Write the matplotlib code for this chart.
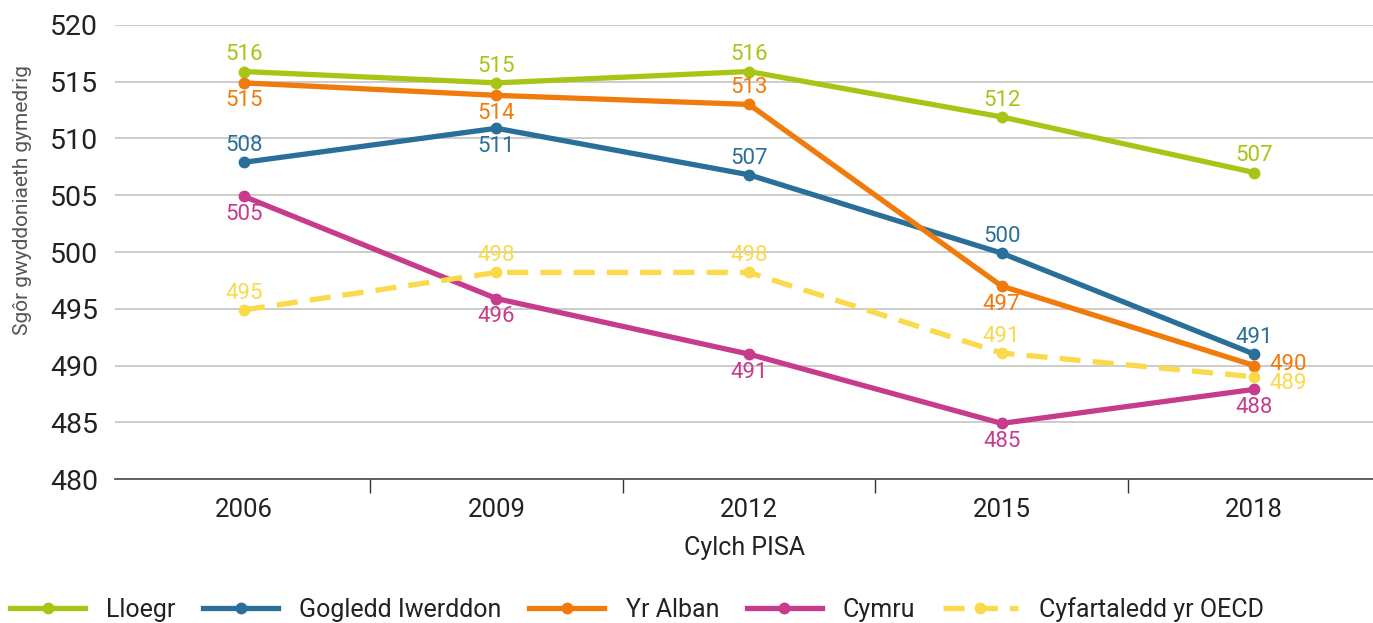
import matplotlib
matplotlib.use("Agg")
import matplotlib.pyplot as plt
from matplotlib.ticker import FixedLocator

plt.rcParams['font.family'] = ['Roboto', 'DejaVu Sans']

years = ["2006", "2009", "2012", "2015", "2018"]
lloegr = [515.9, 514.9, 515.9, 511.9, 507.0]
gogledd = [507.9, 510.9, 506.8, 499.9, 491.0]
alban = [514.9, 513.8, 513.0, 497.0, 490.0]
cymru = [504.9, 495.9, 491.0, 484.9, 487.9]
oecd = [494.9, 498.2, 498.2, 491.1, 489.0]

names = ["Lloegr", "Gogledd Iwerddon", "Yr Alban", "Cymru", "Cyfartaledd yr OECD"]
colors = ["#a6c514", "#2a6f9a", "#f07a0a", "#c73b8c", "#fad94a"]
series = [lloegr, gogledd, alban, cymru, oecd]
styles = ["-", "-", "-", "-", "--"]
# label placement: 'a' above, 'b' below, 'r' right
placements = [
    ["a", "a", "a", "a", "a"],
    ["a", "b", "a", "a", "a"],
    ["b", "b", "a", "b", "r"],
    ["b", "b", "b", "b", "b"],
    ["a", "a", "a", "a", "r2"],
]

fig = plt.figure(figsize=(13.73, 6.23), dpi=100)
ax = fig.add_axes([0.0838, 0.2311, 0.9162, 0.7288])

x = list(range(len(years)))
handles = []
for vals, c, ls, nm, pl in zip(series, colors, styles, names, placements):
    if ls == "--":
        h, = ax.plot(x, vals, color=c, lw=3.8, ls=ls, dashes=(4, 2.3), marker="o", ms=7.5,
                     label=nm, zorder=3)
    else:
        h, = ax.plot(x, vals, color=c, lw=3.8, ls=ls, marker="o", ms=7.5,
                     label=nm, zorder=3)
    handles.append(h)
    for xi, v, p in zip(x, vals, pl):
        txt = f"{round(v):d}"
        if p == "a":
            off, ha = (0, 12), "center"
        elif p == "b":
            off, ha = (0, -13), "center"
        elif p == "r":
            off, ha = (11, 1), "left"
        else:
            off, ha = (11, -5), "left"
        ax.annotate(txt, (xi, v), xytext=off, textcoords="offset points",
                    ha=ha, va="center", color=c, fontsize=16)

ax.set_xlim(-0.51, 4.47)
ax.set_ylim(480, 520)
ax.set_yticks(range(480, 521, 5))
ax.set_xticks(x)
ax.set_xticklabels(years)
ax.xaxis.set_minor_locator(FixedLocator([0.5, 1.5, 2.5, 3.5]))
ax.tick_params(axis="x", which="major", length=0, labelsize=18.5, pad=14, labelcolor="#222222")
ax.tick_params(axis="x", which="minor", length=10, width=1, color="#333333", direction="out")
ax.tick_params(axis="y", length=0, labelsize=20.5, pad=12, labelcolor="#222222")

ax.grid(axis="y", color="#c8c8c8", lw=1.3)
ax.set_axisbelow(True)
for s in ["top", "right", "left"]:
    ax.spines[s].set_visible(False)
ax.spines["bottom"].set_color("#555555")
ax.spines["bottom"].set_linewidth(1.3)
ax.spines["bottom"].set_zorder(4)

ax.set_ylabel("Sgôr gwyddoniaeth gymedrig", fontsize=15, color="#555555")
ax.yaxis.set_label_coords(-0.066, 0.615)
ax.set_xlabel("Cylch PISA", fontsize=18, color="#222222", labelpad=10)

leg = fig.legend(handles=handles, loc="lower left", bbox_to_anchor=(0.0, -0.014),
                 ncol=5, frameon=False, fontsize=18, handlelength=3.0,
                 handletextpad=0.85, columnspacing=1.1, borderaxespad=0.0)
for t in leg.get_texts():
    t.set_color("#222222")

fig.savefig("out.png", dpi=100)
